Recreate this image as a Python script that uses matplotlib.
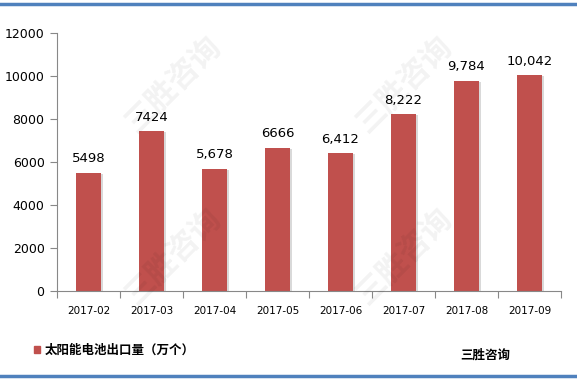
import matplotlib.pyplot as plt
import matplotlib.patches as mpatches
from matplotlib.lines import Line2D

plt.rcParams['font.family'] = ['Noto Sans CJK SC', 'DejaVu Sans']

months = ["2017-02", "2017-03", "2017-04", "2017-05", "2017-06", "2017-07", "2017-08", "2017-09"]
values = [5498, 7424, 5678, 6666, 6412, 8222, 9784, 10042]
value_labels = ["5498", "7424", "5,678", "6666", "6,412", "8,222", "9,784", "10,042"]
yticks = [0, 2000, 4000, 6000, 8000, 10000, 12000]

bar_color = "#C0504D"
line_color = "#4F81BD"

fig = plt.figure(figsize=(5.77, 3.83), dpi=100)
ax = fig.add_axes([57 / 577, 1 - 291 / 383, 504 / 577, 258 / 383])

x = range(len(months))
# light shadow behind bars
ax.bar([i + 0.03 for i in x], [v - 40 for v in values], width=0.4, color="#d9d9d9", zorder=1)
bars = ax.bar(x, values, width=0.4, color=bar_color, zorder=2)

for i, (v, lab) in enumerate(zip(values, value_labels)):
    ax.text(i, v + 350, lab, ha="center", va="bottom", fontsize=9.5, family="DejaVu Sans")

ax.set_xlim(-0.5, len(months) - 0.5)
ax.set_ylim(0, 12000)
ax.set_yticks(yticks)
ax.set_yticklabels([str(t) for t in yticks], fontsize=9, family="DejaVu Sans")
ax.set_xticks([i + 0.5 for i in range(-1, len(months))])
ax.set_xticklabels([])
ax.tick_params(axis="x", length=5, direction="out", color="#888888")
ax.tick_params(axis="y", length=5, direction="out", color="#888888", pad=4)
for i, m in enumerate(months):
    ax.text(i, -950, m, ha="center", va="center", fontsize=7.5, family="DejaVu Sans")

for s in ["top", "right"]:
    ax.spines[s].set_visible(False)
ax.spines["left"].set_color("#888888")
ax.spines["bottom"].set_color("#888888")

# watermarks
for wx, wy in [(0.30, 0.78), (0.70, 0.78), (0.30, 0.33), (0.70, 0.33)]:
    fig.text(wx, wy, "三胜咨询", fontsize=22, color="#000000", alpha=0.05,
             rotation=45, ha="center", va="center", fontweight="bold")

# legend
fig.patches.append(mpatches.Rectangle((34 / 577, 1 - 353 / 383), 6 / 577, 7 / 383,
                                      transform=fig.transFigure, color=bar_color))
fig.text(45 / 577, 1 - 350 / 383, "太阳能电池出口量（万个）", fontsize=9, fontweight="bold",
         ha="left", va="center")
fig.text(460 / 577, 1 - 355 / 383, "三胜咨询", fontsize=9, fontweight="bold",
         ha="left", va="center")

# blue border lines
fig.add_artist(Line2D([0, 1], [1 - 4 / 383, 1 - 4 / 383], transform=fig.transFigure,
                      color=line_color, linewidth=2.5))
fig.add_artist(Line2D([0, 1], [1 - 376 / 383, 1 - 376 / 383], transform=fig.transFigure,
                      color=line_color, linewidth=2.5))

fig.savefig("out.png", dpi=100)
